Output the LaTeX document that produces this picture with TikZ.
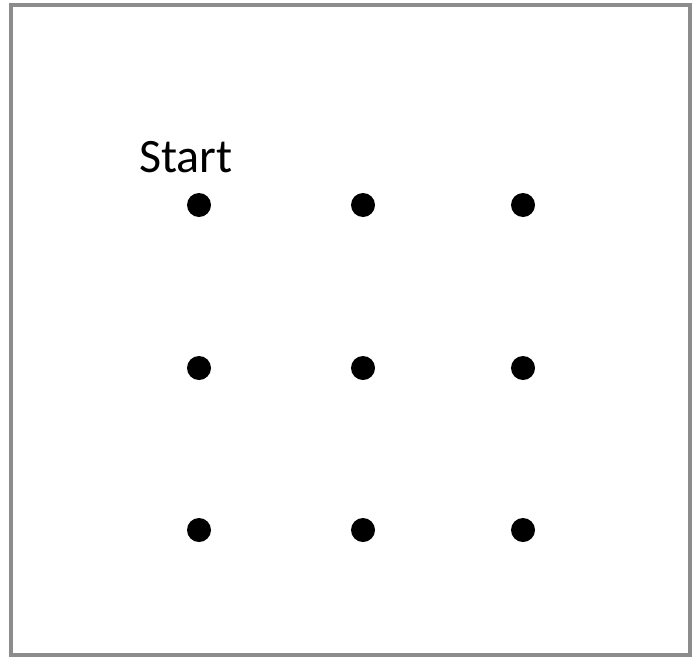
\documentclass[tikz,border=0pt]{standalone}
\usepackage{fontspec}
\setmainfont{Carlito}
\usetikzlibrary{positioning}
\definecolor{frame}{HTML}{8C8C8C}
\tikzset{
  framebox/.style={draw=frame, line width=3.5pt},
  spot/.style={circle, fill=black, inner sep=0pt, minimum size=24pt},
  startlabel/.style={font=\fontsize{48}{52}\selectfont, inner sep=0pt, anchor=base west}}

\begin{document}
\begin{tikzpicture}[x=1pt, y=-1pt]
    \useasboundingbox (0,0) rectangle (692,661);
    \draw[framebox] (11,5) rectangle (690,655);
    \foreach \r/\y in {1/205, 2/368, 3/530} {
      \foreach \c/\x in {1/199, 2/363, 3/523} {
        \node[spot] (dot\r\c) at (\x,\y) {};
      }
    }
    \node[startlabel] (start) at (139,172) {Start};
  \end{tikzpicture}
\end{document}
